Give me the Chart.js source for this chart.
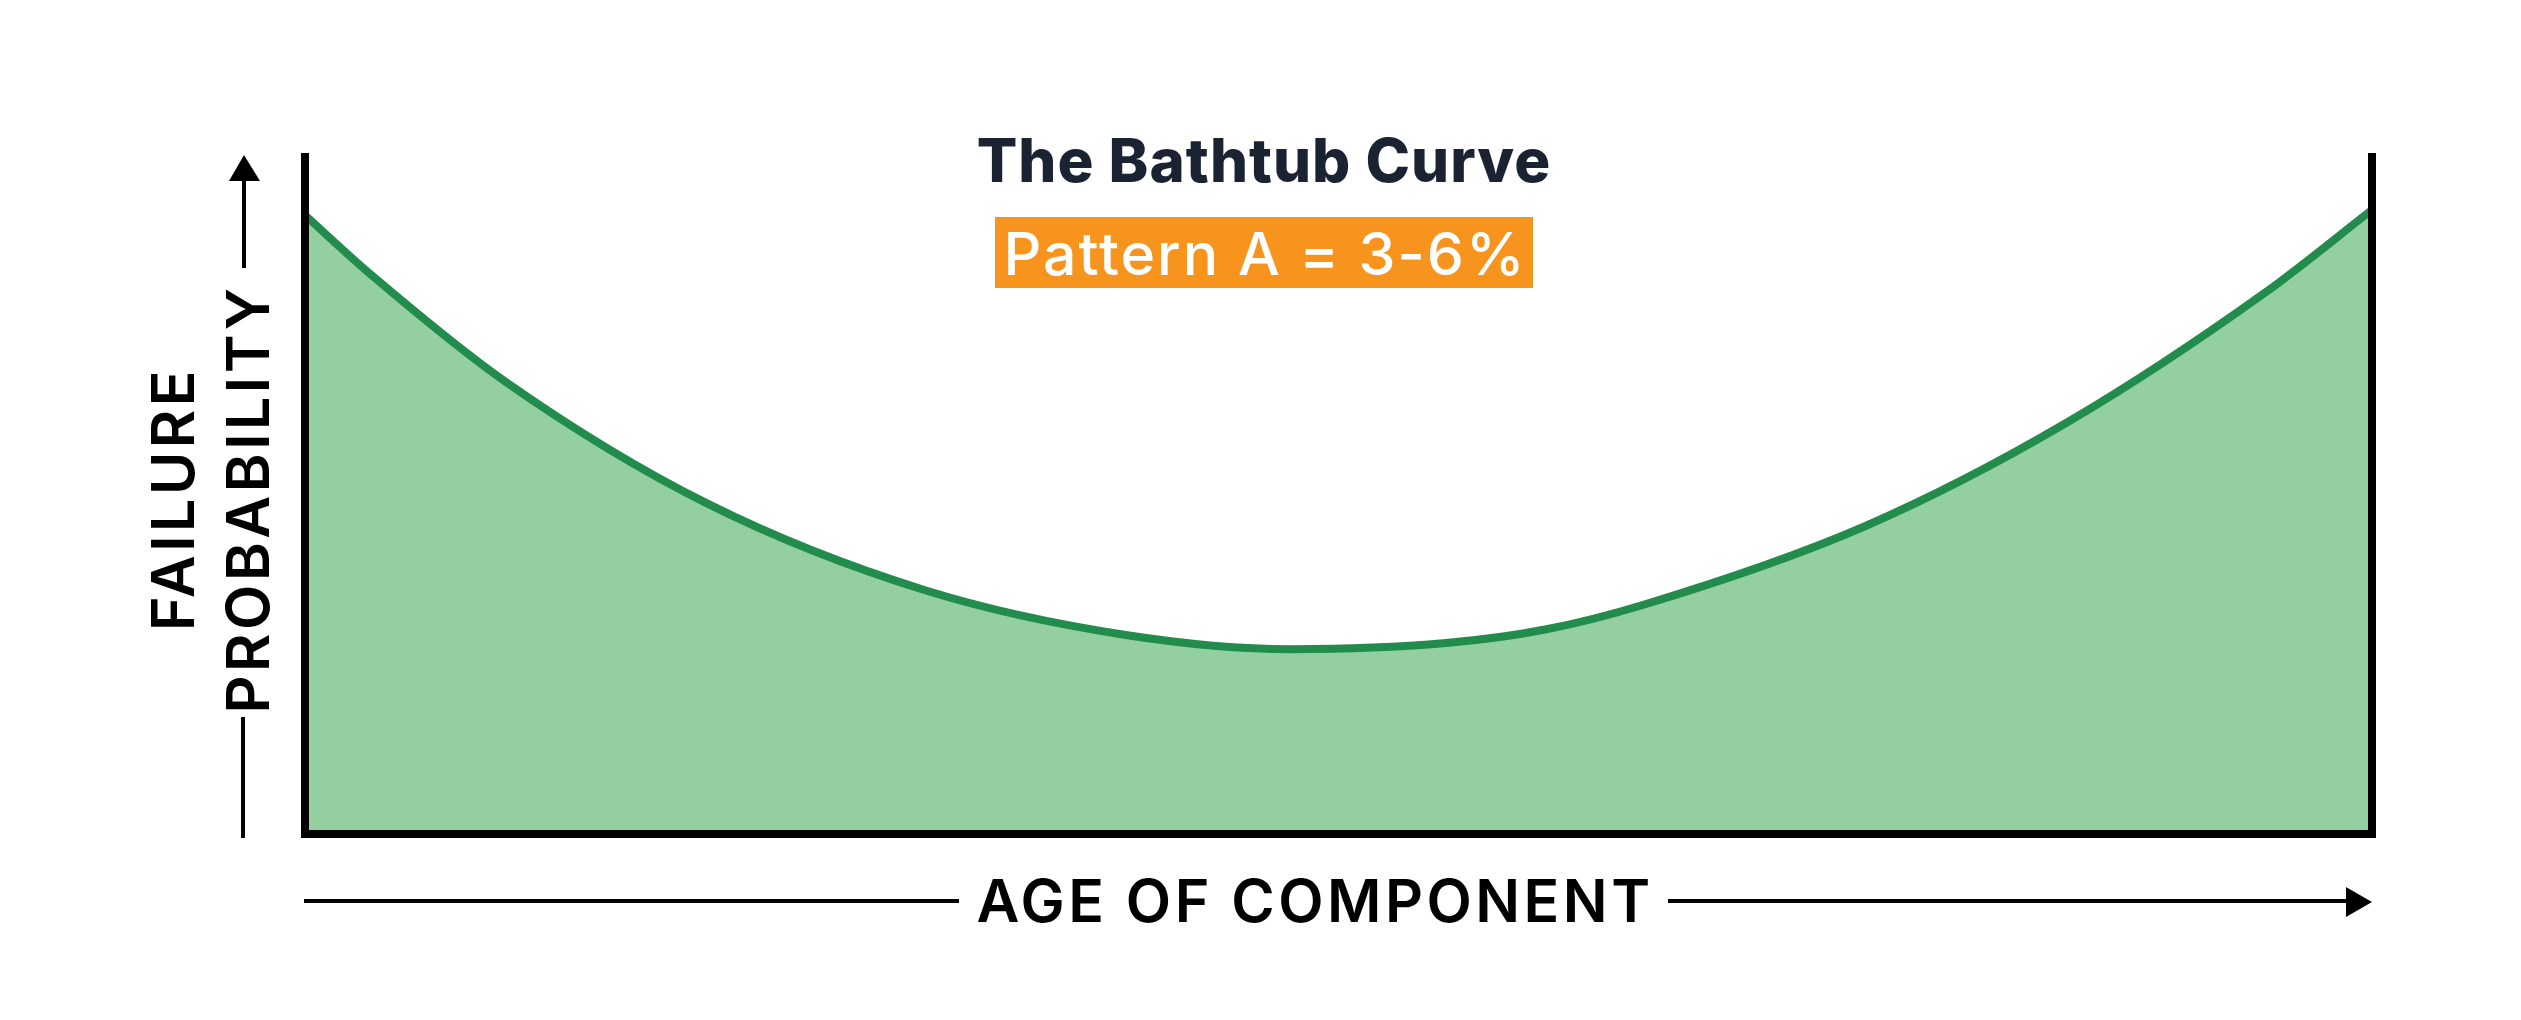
<!DOCTYPE html>
<html>
<head>
<meta charset="utf-8">
<script src="https://cdn.jsdelivr.net/npm/chart.js@4.4.1/dist/chart.umd.min.js"></script>
<style>
  html, body { margin: 0; padding: 0; background: #ffffff; }
  #wrap { width: 2521px; height: 1020px; }
</style>
</head>
<body>
<div id="wrap"><canvas id="c" width="2521" height="1020"></canvas></div>
<script>
// ---- data ----
const ages = [0, 3.2, 9.7, 19.4, 30.0, 39.7, 47.7, 55.2, 60.0, 64.8, 75.5, 85.2, 94.8, 100];
const failureProbability = [91.4, 82.6, 66.8, 48.9, 36.0, 29.4, 27.3, 28.2, 30.2, 33.9, 45.5, 60.7, 79.9, 92.2];
const chartTitle = 'The Bathtub Curve';
const patternLabel = 'Pattern A = 3-6%';
const xAxisTitle = 'AGE OF COMPONENT';
const yAxisTitleLines = ['FAILURE', 'PROBABILITY'];

const points = ages.map((a, i) => ({ x: a, y: failureProbability[i] }));

const FONT = 'Inter, "Noto Sans", "Liberation Sans", sans-serif';

function spaced(ctx, px) {
  if ('letterSpacing' in ctx) ctx.letterSpacing = px + 'px';
}

const annotations = {
  id: 'annotations',
  beforeDraw(chart) {
    const ctx = chart.ctx;
    ctx.save();
    ctx.fillStyle = '#ffffff';
    ctx.fillRect(0, 0, chart.width, chart.height);
    ctx.restore();
  },
  afterDraw(chart) {
    const ctx = chart.ctx;
    const a = chart.chartArea;
    ctx.save();
    ctx.textAlign = 'center';
    ctx.textBaseline = 'alphabetic';

    // Title
    ctx.fillStyle = '#1b2333';
    ctx.font = '800 60px ' + FONT;
    spaced(ctx, 1);
    ctx.fillText(chartTitle, 1264, 182);

    // Orange pattern box
    ctx.fillStyle = '#f7941d';
    ctx.fillRect(995, 217, 538, 71);
    ctx.fillStyle = '#ffffff';
    ctx.font = '500 59px ' + FONT;
    spaced(ctx, 2);
    ctx.fillText(patternLabel, 1265, 275);

    // X axis title with arrow
    ctx.fillStyle = '#000000';
    ctx.font = '600 59px ' + FONT;
    spaced(ctx, 3.5);
    ctx.fillText(xAxisTitle, 1315, 922);
    ctx.fillRect(a.left - 1, 899, 959 - a.left + 1, 4);
    ctx.fillRect(1668, 899, 2348 - 1668, 4);
    ctx.beginPath();
    ctx.moveTo(2346, 887);
    ctx.lineTo(2372, 902);
    ctx.lineTo(2346, 917);
    ctx.closePath();
    ctx.fill();

    // Y axis title (rotated) with arrow
    ctx.save();
    ctx.font = '600 59px ' + FONT;
    spaced(ctx, 3.5);
    ctx.translate(194, 499);
    ctx.rotate(-Math.PI / 2);
    ctx.fillText(yAxisTitleLines[0], 0, 0);
    ctx.restore();
    ctx.save();
    ctx.font = '600 59px ' + FONT;
    spaced(ctx, 3.5);
    ctx.translate(269, 499);
    ctx.rotate(-Math.PI / 2);
    ctx.fillText(yAxisTitleLines[1], 0, 0);
    ctx.restore();

    ctx.fillRect(242, 179, 4, 268 - 179);
    ctx.fillRect(241, 717, 4, a.bottom + 4 - 717);
    ctx.beginPath();
    ctx.moveTo(229, 181);
    ctx.lineTo(244, 155);
    ctx.lineTo(260, 181);
    ctx.closePath();
    ctx.fill();

    ctx.restore();
  }
};

new Chart(document.getElementById('c'), {
  type: 'line',
  data: {
    datasets: [{
      data: points,
      borderColor: '#218c4b',
      borderWidth: 8,
      backgroundColor: '#94cfa2',
      fill: 'origin',
      pointRadius: 0,
      cubicInterpolationMode: 'monotone'
    }]
  },
  options: {
    responsive: false,
    devicePixelRatio: 1,
    animation: false,
    layout: { padding: { left: 305, right: 149, top: 157, bottom: 186 } },
    plugins: { legend: { display: false }, tooltip: { enabled: false }, title: { display: false } },
    scales: {
      x: {
        type: 'linear', min: 0, max: 100, position: 'bottom',
        grid: { display: false, drawTicks: false, lineWidth: 8 },
        ticks: { display: false },
        border: { display: true, color: '#000000', width: 8, z: 2 }
      },
      y: {
        type: 'linear', min: 0, max: 100, position: 'left',
        grid: { display: false, drawTicks: false, lineWidth: 8 },
        ticks: { display: false },
        border: { display: true, color: '#000000', width: 8, z: 2 }
      },
      y2: {
        type: 'linear', min: 0, max: 100, position: 'right',
        grid: { display: false, drawTicks: false, lineWidth: 8 },
        ticks: { display: false },
        border: { display: true, color: '#000000', width: 8, z: 2 }
      }
    }
  },
  plugins: [annotations]
});
</script>
</body>
</html>
